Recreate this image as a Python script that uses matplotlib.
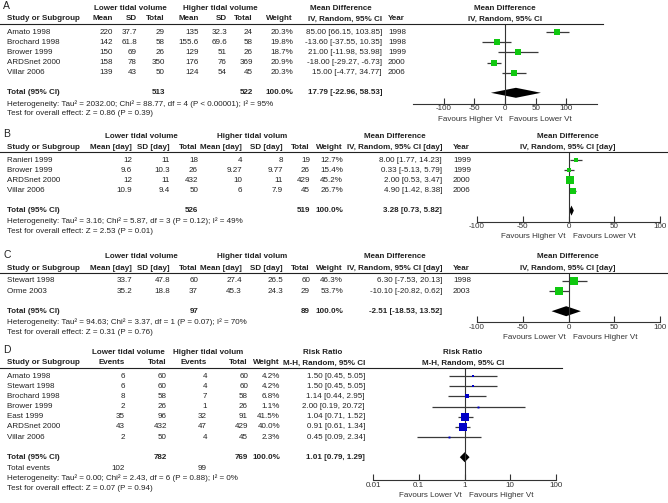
import numpy as np
import matplotlib
matplotlib.use("Agg")
import matplotlib.pyplot as plt
from matplotlib.lines import Line2D

plt.rcParams['font.family'] = ['Liberation Sans', 'DejaVu Sans']

W, H = 668, 503
FS = 5.8
TXT = '#222222'
GREEN = '#10c810'
BLUE = '#0000c8'

# ---- panel A : mortality (mean difference) ----
studies_a = ['Amato 1998', 'Brochard 1998', 'Brower 1999', 'ARDSnet 2000', 'Villar 2006']
lo_mean_a = [220, 142, 150, 158, 139]
lo_sd_a = [37.7, 61.8, 69, 78, 43]
lo_n_a = [29, 58, 26, 350, 50]
hi_mean_a = [135, 155.6, 129, 176, 124]
hi_sd_a = [32.3, 69.6, 51, 76, 54]
hi_n_a = [24, 58, 26, 369, 45]
weight_a = [20.3, 19.8, 18.7, 20.9, 20.3]
md_a = [85.00, -13.60, 21.00, -18.00, 15.00]
ci_lo_a = [66.15, -37.55, -11.98, -29.27, -4.77]
ci_hi_a = [103.85, 10.35, 53.98, -6.73, 34.77]
year_a = [1998, 1998, 1999, 2000, 2006]
total_a = [513, 522, 17.79, -22.96, 58.53]
het_a = 'Heterogeneity: Tau\u00b2 = 2032.00; Chi\u00b2 = 88.77, df = 4 (P < 0.00001); I\u00b2 = 95%'
test_a = 'Test for overall effect: Z = 0.86 (P = 0.39)'

# ---- panel B ----
studies_b = ['Ranieri 1999', 'Brower 1999', 'ARDSnet 2000', 'Villar 2006']
lo_mean_b = [12, 9.6, 12, 10.9]
lo_sd_b = [11, 10.3, 11, 9.4]
lo_n_b = [18, 26, 432, 50]
hi_mean_b = [4, 9.27, 10, 6]
hi_sd_b = [8, 9.77, 11, 7.9]
hi_n_b = [19, 26, 429, 45]
weight_b = [12.7, 15.4, 45.2, 26.7]
md_b = [8.00, 0.33, 2.00, 4.90]
ci_lo_b = [1.77, -5.13, 0.53, 1.42]
ci_hi_b = [14.23, 5.79, 3.47, 8.38]
year_b = [1999, 1999, 2000, 2006]
total_b = [526, 519, 3.28, 0.73, 5.82]
het_b = 'Heterogeneity: Tau\u00b2 = 3.16; Chi\u00b2 = 5.87, df = 3 (P = 0.12); I\u00b2 = 49%'
test_b = 'Test for overall effect: Z = 2.53 (P = 0.01)'

# ---- panel C ----
studies_c = ['Stewart 1998', 'Orme 2003']
lo_mean_c = [33.7, 35.2]
lo_sd_c = [47.8, 18.8]
lo_n_c = [60, 37]
hi_mean_c = [27.4, 45.3]
hi_sd_c = [26.5, 24.3]
hi_n_c = [60, 29]
weight_c = [46.3, 53.7]
md_c = [6.30, -10.10]
ci_lo_c = [-7.53, -20.82]
ci_hi_c = [20.13, 0.62]
year_c = [1998, 2003]
total_c = [97, 89, -2.51, -18.53, 13.52]
het_c = 'Heterogeneity: Tau\u00b2 = 94.63; Chi\u00b2 = 3.37, df = 1 (P = 0.07); I\u00b2 = 70%'
test_c = 'Test for overall effect: Z = 0.31 (P = 0.76)'

# ---- panel D : risk ratio ----
studies_d = ['Amato 1998', 'Stewart 1998', 'Brochard 1998', 'Brower 1999',
             'East 1999', 'ARDSnet 2000', 'Villar 2006']
lo_ev_d = [6, 6, 8, 2, 35, 43, 2]
lo_n_d = [60, 60, 58, 26, 96, 432, 50]
hi_ev_d = [4, 4, 7, 1, 32, 47, 4]
hi_n_d = [60, 60, 58, 26, 91, 429, 45]
weight_d = [4.2, 4.2, 6.8, 1.1, 41.5, 40.0, 2.3]
rr_d = [1.50, 1.50, 1.14, 2.00, 1.04, 0.91, 0.45]
ci_lo_d = [0.45, 0.45, 0.44, 0.19, 0.71, 0.61, 0.09]
ci_hi_d = [5.05, 5.05, 2.95, 20.72, 1.52, 1.34, 2.34]
total_d = [782, 769, 1.01, 0.79, 1.29]
events_d = [102, 99]
het_d = 'Heterogeneity: Tau\u00b2 = 0.00; Chi\u00b2 = 2.43, df = 6 (P = 0.88); I\u00b2 = 0%'
test_d = 'Test for overall effect: Z = 0.07 (P = 0.94)'


fig = plt.figure(figsize=(W / 100, H / 100), dpi=100)


def txt(x, y, s, ha='left', bold=False, size=FS):
    fig.text(x / W, 1 - y / H, s, ha=ha, va='center', fontsize=size,
             fontweight='bold' if bold else 'normal', color=TXT)


def hline(y, x1):
    fig.add_artist(Line2D([0, x1 / W], [1 - y / H] * 2, color=TXT, lw=0.8))


def forest(x0, x1, ytop, yaxis, rows, est, lo, hi, wts, tot, color,
           xlim, ticks, ticklabels, fav, ytot, log=False, ref=0):
    ax = fig.add_axes([x0 / W, 1 - yaxis / H, (x1 - x0) / W, (yaxis - ytop) / H])
    if log:
        ax.set_xscale('log')
    ax.set_xlim(*xlim)
    ax.set_ylim(yaxis, ytop)
    ax.patch.set_visible(False)
    for s in ['top', 'left', 'right']:
        ax.spines[s].set_visible(False)
    ax.spines['bottom'].set_linewidth(0.8)
    ax.spines['bottom'].set_color('#333333')
    ax.set_yticks([])
    ax.set_xticks(ticks)
    ax.set_xticklabels(ticklabels)
    ax.minorticks_off()
    ax.tick_params(axis='x', direction='in', length=4, width=0.8, pad=1,
                   labelsize=FS, colors='#333333')
    ax.axvline(ref, color='#333333', lw=0.8)
    ax.hlines(rows, lo, hi, color='#3a3a3a', lw=0.9)
    for e, y, w in zip(est, rows, wts):
        ax.plot(e, y, 's', ms=max(np.sqrt(w) * 0.85, 1.4), color=color, mew=0)
    e, l, h = tot
    ax.fill([l, e, h, e], [ytot, ytot - 5, ytot, ytot + 5], color='black', lw=0)
    ax.annotate(fav[0], xy=(ref, 0), xycoords=('data', 'axes fraction'),
                xytext=(-2, -11), textcoords='offset points', ha='right',
                va='center', fontsize=FS, color='#333333')
    ax.annotate(fav[1], xy=(ref, 0), xycoords=('data', 'axes fraction'),
                xytext=(3, -11), textcoords='offset points', ha='left',
                va='center', fontsize=FS, color='#333333')
    return ax


STEP = 10.2

# ================= A =================
top = 8
rows = [top + 24 + i * STEP for i in range(len(studies_a))]
ytot = rows[-1] + 20
txt(3, top - 2, 'A', size=7.5)
txt(130, top, 'Lower tidal volume', ha='center', bold=True)
txt(220, top, 'Higher tidal volume', ha='center', bold=True)
txt(341, top, 'Mean Difference', ha='center', bold=True)
txt(505, top, 'Mean Difference', ha='center', bold=True)
h2 = top + 11
txt(7, h2, 'Study or Subgroup', bold=True)
for x, s in zip([113, 137, 165, 199, 227, 253, 293, 382],
                ['Mean', 'SD', 'Total', 'Mean', 'SD', 'Total', 'Weight', 'IV, Random, 95% CI']):
    txt(x, h2, s, ha='right', bold=True)
txt(388, h2, 'Year', bold=True)
txt(505, h2, 'IV, Random, 95% CI', ha='center', bold=True)
hline(top + 16, 603)
for i, y in enumerate(rows):
    txt(7, y, studies_a[i])
    vals = [f'{lo_mean_a[i]:g}', f'{lo_sd_a[i]:g}', f'{lo_n_a[i]}',
            f'{hi_mean_a[i]:g}', f'{hi_sd_a[i]:g}', f'{hi_n_a[i]}',
            f'{weight_a[i]:.1f}%', f'{md_a[i]:.2f} [{ci_lo_a[i]:.2f}, {ci_hi_a[i]:.2f}]']
    for x, s in zip([113, 137, 165, 199, 227, 253, 293, 382], vals):
        txt(x, y, s, ha='right')
    txt(388, y, str(year_a[i]))
txt(7, ytot, 'Total (95% CI)', bold=True)
txt(165, ytot, str(total_a[0]), ha='right', bold=True)
txt(253, ytot, str(total_a[1]), ha='right', bold=True)
txt(293, ytot, '100.0%', ha='right', bold=True)
txt(382, ytot, f'{total_a[2]:.2f} [{total_a[3]:.2f}, {total_a[4]:.2f}]', ha='right', bold=True)
txt(7, ytot + 11, het_a)
txt(7, ytot + 21, test_a)
forest(413, 597, top + 16, ytot + 11, rows, md_a, ci_lo_a, ci_hi_a, weight_a,
       total_a[2:], GREEN, (-150, 150), [-100, -50, 0, 50, 100],
       ['-100', '-50', '0', '50', '100'], ('Favours Higher Vt', 'Favours Lower Vt'), ytot)


# ================= B / C =================
def panel_bc(letter, top, studies, lm, ls, ln, hm, hs, hn, wt, md, cl, ch, yr, tot, het, test, fav):
    rows = [top + 24 + i * STEP for i in range(len(studies))]
    ytot = rows[-1] + 20
    txt(3, top - 2, letter, size=7.5)
    txt(141, top, 'Lower tidal volume', ha='center', bold=True)
    txt(252, top, 'Higher tidal volum', ha='center', bold=True)
    txt(395, top, 'Mean Difference', ha='center', bold=True)
    txt(568, top, 'Mean Difference', ha='center', bold=True)
    h2 = top + 11
    cols = [132, 170, 198, 242, 283, 310, 343, 442]
    txt(7, h2, 'Study or Subgroup', bold=True)
    for x, s in zip(cols, ['Mean [day]', 'SD [day]', 'Total', 'Mean [day]', 'SD [day]',
                           'Total', 'Weight', 'IV, Random, 95% CI [day]']):
        txt(x, h2, s, ha='right', bold=True)
    txt(453, h2, 'Year', bold=True)
    txt(568, h2, 'IV, Random, 95% CI [day]', ha='center', bold=True)
    hline(top + 16, 668)
    for i, y in enumerate(rows):
        txt(7, y, studies[i])
        vals = [f'{lm[i]:g}', f'{ls[i]:g}', f'{ln[i]}', f'{hm[i]:g}', f'{hs[i]:g}',
                f'{hn[i]}', f'{wt[i]:.1f}%', f'{md[i]:.2f} [{cl[i]:.2f}, {ch[i]:.2f}]']
        for x, s in zip(cols, vals):
            txt(x, y, s, ha='right')
        txt(453, y, str(yr[i]))
    txt(7, ytot, 'Total (95% CI)', bold=True)
    txt(198, ytot, str(tot[0]), ha='right', bold=True)
    txt(310, ytot, str(tot[1]), ha='right', bold=True)
    txt(343, ytot, '100.0%', ha='right', bold=True)
    txt(442, ytot, f'{tot[2]:.2f} [{tot[3]:.2f}, {tot[4]:.2f}]', ha='right', bold=True)
    txt(7, ytot + 11, het)
    txt(7, ytot + 21, test)
    forest(477, 660, top + 16, ytot + 11, rows, md, cl, ch, wt, tot[2:], GREEN,
           (-100, 100), [-100, -50, 0, 50, 100], ['-100', '-50', '0', '50', '100'], fav, ytot)


panel_bc('B', 136, studies_b, lo_mean_b, lo_sd_b, lo_n_b, hi_mean_b, hi_sd_b, hi_n_b,
         weight_b, md_b, ci_lo_b, ci_hi_b, year_b, total_b, het_b, test_b,
         ('Favours Higher Vt', 'Favours Lower Vt'))
panel_bc('C', 257, studies_c, lo_mean_c, lo_sd_c, lo_n_c, hi_mean_c, hi_sd_c, hi_n_c,
         weight_c, md_c, ci_lo_c, ci_hi_c, year_c, total_c, het_c, test_c,
         ('Favours Lower Vt', 'Favours Higher Vt'))

# ================= D =================
top = 352
rows = [top + 24 + i * STEP for i in range(len(studies_d))]
ytot = rows[-1] + 20
txt(3, top - 2, 'D', size=7.5)
txt(128, top, 'Lower tidal volume', ha='center', bold=True)
txt(208, top, 'Higher tidal volum', ha='center', bold=True)
txt(323, top, 'Risk Ratio', ha='center', bold=True)
txt(463, top, 'Risk Ratio', ha='center', bold=True)
h2 = top + 11
cols = [125, 167, 207, 248, 280, 365]
txt(7, h2, 'Study or Subgroup', bold=True)
for x, s in zip(cols, ['Events', 'Total', 'Events', 'Total', 'Weight', 'M-H, Random, 95% CI']):
    txt(x, h2, s, ha='right', bold=True)
txt(463, h2, 'M-H, Random, 95% CI', ha='center', bold=True)
hline(top + 16, 562)
for i, y in enumerate(rows):
    txt(7, y, studies_d[i])
    vals = [str(lo_ev_d[i]), str(lo_n_d[i]), str(hi_ev_d[i]), str(hi_n_d[i]),
            f'{weight_d[i]:.1f}%', f'{rr_d[i]:.2f} [{ci_lo_d[i]:.2f}, {ci_hi_d[i]:.2f}]']
    for x, s in zip(cols, vals):
        txt(x, y, s, ha='right')
txt(7, ytot, 'Total (95% CI)', bold=True)
txt(167, ytot, str(total_d[0]), ha='right', bold=True)
txt(248, ytot, str(total_d[1]), ha='right', bold=True)
txt(280, ytot, '100.0%', ha='right', bold=True)
txt(365, ytot, f'{total_d[2]:.2f} [{total_d[3]:.2f}, {total_d[4]:.2f}]', ha='right', bold=True)
txt(7, ytot + 11, 'Total events')
txt(125, ytot + 11, str(events_d[0]), ha='right')
txt(207, ytot + 11, str(events_d[1]), ha='right')
txt(7, ytot + 21, het_d)
txt(7, ytot + 31, test_d)
forest(373, 556, top + 16, ytot + 23, rows, rr_d, ci_lo_d, ci_hi_d, weight_d,
       total_d[2:], BLUE, (0.01, 100), [0.01, 0.1, 1, 10, 100],
       ['0.01', '0.1', '1', '10', '100'], ('Favours Lower Vt', 'Favours Higher Vt'),
       ytot, log=True, ref=1)

fig.savefig('out.png', dpi=100)
